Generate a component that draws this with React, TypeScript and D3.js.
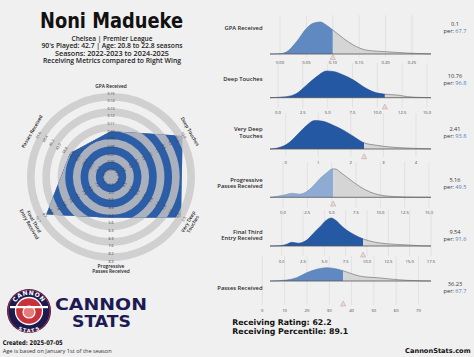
import React from "react";
import * as d3 from "d3";

// ---------------- DATA ----------------
const playerName = "Noni Madueke";
const subtitleLines = [
  "Chelsea | Premier League",
  "90's Played: 42.7 | Age: 20.8 to 22.8 seasons",
  "Seasons: 2022-2023 to 2024-2025",
  "Receiving Metrics compared to Right Wing",
];

// radar
const radarParams = [
  "GPA Received",
  "Deep Touches",
  "Very Deep\nTouches",
  "Progressive\nPasses Received",
  "Final Third\nEntry Received",
  "Passes Received",
];
const radarMin = [0.05, 3.0, 0.25, 2.3, 1.0, 19.6];
const radarMax = [0.15, 10.9, 2.5, 8.9, 10.7, 51.6];
const radarValues = [0.1, 10.76, 2.41, 5.16, 9.54, 36.23];
const radarDecimals = [2, 1, 1, 1, 1, 1];

// distributions
const metricNames = radarParams;
const playerValues = [0.1, 10.76, 2.41, 5.16, 9.54, 36.23];
const valueLabels = ["0.1", "10.76", "2.41", "5.16", "9.54", "36.23"];
const percentiles = [67.7, 96.8, 93.8, 49.5, 91.6, 67.7];
const xDomains: [number, number][] = [
  [-0.019, 0.286],
  [-0.8, 15.4],
  [-0.48, 4.46],
  [-1.33, 15.2],
  [-1.37, 17.5],
  [3.45, 75.6],
];
const tickValues = [
  [0, 0.05, 0.1, 0.15, 0.2, 0.25],
  [0, 2.5, 5, 7.5, 10, 12.5, 15],
  [0, 1, 2, 3, 4],
  [0, 2.5, 5, 7.5, 10, 12.5, 15],
  [0, 2.5, 5, 7.5, 10, 12.5, 15, 17.5],
  [0, 10, 20, 30, 40, 50, 60, 70],
];
const tickLabels = [
  ["0.00", "0.05", "0.10", "0.15", "0.20", "0.25"],
  ["0.0", "2.5", "5.0", "7.5", "10.0", "12.5", "15.0"],
  ["0", "1", "2", "3", "4"],
  ["0.0", "2.5", "5.0", "7.5", "10.0", "12.5", "15.0"],
  ["0.0", "2.5", "5.0", "7.5", "10.0", "12.5", "15.0", "17.5"],
  ["0", "10", "20", "30", "40", "50", "60", "70"],
];
const gpaDensity = [
  [-0.019, 0], [0.0, 0.01], [0.0127, 0.07], [0.032, 0.4], [0.05, 0.8], [0.063, 0.96],
  [0.076, 1.0], [0.088, 0.9], [0.1, 0.75], [0.12, 0.49], [0.139, 0.28], [0.164, 0.12],
  [0.202, 0.07], [0.24, 0.03], [0.286, 0.005],
];
const deepDensity = [
  [-0.8, 0], [0.87, 0.04], [1.88, 0.16], [2.9, 0.48], [3.9, 0.79], [4.9, 1.0], [5.57, 0.98],
  [6.58, 0.85], [7.6, 0.66], [8.6, 0.41], [9.6, 0.22], [10.77, 0.13], [12.0, 0.1],
  [13.0, 0.04], [14.3, 0.01], [15.4, 0],
];
const veryDeepDensity = [
  [-0.48, 0], [-0.17, 0.06], [0.08, 0.2], [0.34, 0.48], [0.59, 0.77], [0.9, 1.0], [1.15, 0.97],
  [1.46, 0.83], [1.77, 0.66], [2.07, 0.45], [2.4, 0.22], [2.79, 0.13], [3.3, 0.06],
  [3.9, 0.025], [4.46, 0.005],
];
const progDensity = [
  [-1.33, 0], [-0.5, 0.04], [0.38, 0.1], [0.9, 0.14], [1.74, 0.11], [2.4, 0.19], [3.1, 0.39],
  [3.8, 0.65], [4.5, 0.85], [5.1, 0.99], [5.5, 0.97], [5.85, 0.88], [6.87, 0.62], [7.9, 0.37],
  [8.9, 0.19], [9.95, 0.08], [11.7, 0.02], [13.5, 0.005], [15.2, 0],
];
const finalDensity = [
  [-1.37, 0], [-0.2, 0.01], [0.59, 0.06], [1.17, 0.13], [1.95, 0.1], [2.93, 0.21], [3.7, 0.45],
  [4.5, 0.69], [5.28, 0.93], [5.8, 1.0], [6.4, 0.9], [7.0, 0.72], [7.6, 0.57], [8.4, 0.42],
  [9.57, 0.25], [10.7, 0.15], [12.3, 0.08], [14.65, 0.04], [16.2, 0.01], [17.5, 0],
];
const passesDensity = [
  [3.45, 0], [10.9, 0.07], [15.4, 0.25], [19.9, 0.62], [24.4, 0.88], [28.9, 1.0], [33.4, 0.9],
  [36.6, 0.75], [40.8, 0.5], [45.3, 0.32], [51.3, 0.25], [57.3, 0.15], [64.8, 0.05], [75.6, 0],
];
const densities = [gpaDensity, deepDensity, veryDeepDensity, progDensity, finalDensity, passesDensity];

const ratingText = "Receiving Rating: 62.2";
const percentileText = "Receiving Percentile: 89.1";

// ---------------- LAYOUT / STYLE ----------------
const BG = "#f0f0f0";
const FONT = "'Open Sans', 'DejaVu Sans', sans-serif";
const BOLD = "'DejaVu Sans', sans-serif";
const cx = 111, cy = 177, c0 = 7.5, rw = 7.65, nRings = 10;
const ringGray = "#d0d0d0", innerBlue = "#2c5ea7", innerGray = "#aab1bd";

const panelLayout = [
  { base: 54, peak: 22, top: 15, tick: 62, tri: 57.5, label: 27.7, right: 27 },
  { base: 97.7, peak: 71, top: 63, tick: 112.7, tri: 107, label: 79.3, right: 79 },
  { base: 149, peak: 120.5, top: 113, tick: 162, tri: 156.7, label: 132.2, right: 132.5 },
  { base: 197.3, peak: 168.5, top: 162, tick: 212.3, tri: 204, label: 183, right: 183 },
  { base: 246, peak: 218, top: 210, tick: 261, tri: 255, label: 235, right: 235 },
  { base: 281, peak: 267.7, top: 256, tick: 310, tri: 304, label: 287.7, right: 287.5 },
];
const X0 = 270, X1 = 431;

const blueScale = d3
  .scaleLinear<string>()
  .domain([50, 68, 92])
  .range(["#8eabd3", "#5e88c0", "#2558a3"])
  .clamp(true);

function tangentRot(deg: number) {
  let r = deg % 360;
  if (r > 90 && r < 270) r -= 180;
  else if (r >= 270) r -= 360;
  return r;
}

function Radar() {
  const n = radarParams.length;
  const angles = radarParams.map((_, i) => (i * 360) / n);
  const scales = radarParams.map((_, i) =>
    d3.scaleLinear().domain([radarMin[i], radarMax[i]]).range([c0, c0 + nRings * rw])
  );
  const pts = radarValues.map((v, i) => {
    const r = scales[i](v);
    const a = (angles[i] * Math.PI) / 180;
    return [cx + r * Math.sin(a), cy - r * Math.cos(a)];
  });
  const ks = d3.range(nRings, -1, -1);
  return (
    <g>
      <defs>
        <clipPath id="radarClip">
          <polygon points={pts.map((p) => p.join(",")).join(" ")} />
        </clipPath>
      </defs>
      {ks.map((k) => (
        <circle key={"o" + k} cx={cx} cy={cy} r={c0 + k * rw} fill={k % 2 === 0 ? ringGray : BG} />
      ))}
      <g clipPath="url(#radarClip)">
        {ks.map((k) => (
          <circle key={"i" + k} cx={cx} cy={cy} r={c0 + k * rw} fill={k % 2 === 0 ? innerGray : innerBlue} />
        ))}
      </g>
      {radarParams.map((p, i) => {
        const a = (angles[i] * Math.PI) / 180;
        const rot = tangentRot(angles[i]);
        const fmt = d3.format("." + radarDecimals[i] + "f");
        return (
          <g key={"ax" + i}>
            {d3.range(0, nRings + 1).map((k) => {
              const r = c0 + k * rw;
              const v = radarMin[i] + ((radarMax[i] - radarMin[i]) * k) / nRings;
              const x = cx + r * Math.sin(a), y = cy - r * Math.cos(a);
              return (
                <text key={k} x={0} y={0} transform={`translate(${x},${y}) rotate(${rot})`}
                  fontSize={3.6} fill="#3a3a3a" textAnchor="middle" dominantBaseline="central" fontFamily={FONT}>
                  {fmt(v)}
                </text>
              );
            })}
            {(() => {
              const r = 91.5;
              const x = cx + r * Math.sin(a), y = cy - r * Math.cos(a);
              const lines = p.split("\n");
              return (
                <text transform={`translate(${x},${y}) rotate(${rot})`} fontSize={4.8} fill="#222"
                  textAnchor="middle" fontFamily={FONT} fontWeight={600}>
                  {lines.map((l, j) => (
                    <tspan key={j} x={0} y={(j - (lines.length - 1) / 2) * 5.3} dominantBaseline="central">{l}</tspan>
                  ))}
                </text>
              );
            })()}
          </g>
        );
      })}
    </g>
  );
}

function Panel({ i }: { i: number }) {
  const L = panelLayout[i];
  const x = d3.scaleLinear().domain(xDomains[i]).range([X0, X1]);
  const y = d3.scaleLinear().domain([0, 1]).range([L.base, L.peak]);
  const data = densities[i] as [number, number][];
  const area = d3.area<[number, number]>().x((d) => x(d[0])).y0(L.base).y1((d) => y(d[1])).curve(d3.curveMonotoneX);
  const line = d3.line<[number, number]>().x((d) => x(d[0])).y((d) => y(d[1])).curve(d3.curveMonotoneX);
  const xv = x(playerValues[i]);
  const col = blueScale(percentiles[i]);
  const lines = metricNames[i].split("\n");
  return (
    <g>
      <defs>
        <clipPath id={"cl" + i}><rect x={0} y={L.top - 5} width={xv} height={L.tick - L.top + 5} /></clipPath>
        <clipPath id={"cr" + i}><rect x={xv} y={L.top - 5} width={474 - xv} height={L.tick - L.top + 5} /></clipPath>
      </defs>
      {tickValues[i].map((t, j) => (
        <g key={j}>
          <line x1={x(t)} x2={x(t)} y1={L.top} y2={L.tick - 5} stroke="#d9d9d9" strokeWidth={0.6} />
          <text x={x(t)} y={L.tick} fontSize={4.2} fill="#444" textAnchor="middle" dominantBaseline="central" fontFamily={FONT}>
            {tickLabels[i][j]}
          </text>
        </g>
      ))}
      <path d={area(data) || ""} fill={col} clipPath={`url(#cl${i})`} />
      <path d={area(data) || ""} fill="#d5d5d5" clipPath={`url(#cr${i})`} />
      <path d={line(data) || ""} fill="none" stroke="#777" strokeWidth={0.7} clipPath={`url(#cr${i})`} />
      <path d={line(data) || ""} fill="none" stroke={d3.color(col)!.darker(0.4).toString()} strokeWidth={0.6} clipPath={`url(#cl${i})`} />
      <line x1={X0} x2={X1} y1={L.base} y2={L.base} stroke="#555" strokeWidth={0.8} />
      <polygon points={`${xv},${L.tri - 3} ${xv - 2.6},${L.tri + 2} ${xv + 2.6},${L.tri + 2}`} fill="#ead8d8" stroke="#c09c9c" strokeWidth={0.5} />
      <text x={262.5} y={L.label} fontSize={5.8} fill="#2a2a2a" textAnchor="end" fontFamily={FONT} fontWeight={600}>
        {lines.map((l, j) => (
          <tspan key={j} x={262.5} y={L.label + (j - (lines.length - 1) / 2) * 6.6} dominantBaseline="central">{l}</tspan>
        ))}
      </text>
      <text x={455} y={L.right - 3.5} fontSize={5.6} fill="#333" textAnchor="middle" dominantBaseline="central" fontFamily={FONT}>
        {valueLabels[i]}
      </text>
      <text x={455} y={L.right + 3.5} fontSize={5.6} fill="#333" textAnchor="middle" dominantBaseline="central" fontFamily={FONT}>
        per: <tspan fill="#4f7fc0">{percentiles[i].toFixed(1)}</tspan>
      </text>
    </g>
  );
}

function Logo() {
  const lx = 29, ly = 311;
  return (
    <g>
      <defs>
        <path id="arcTop" d={`M ${lx - 16} ${ly} A 16 16 0 0 1 ${lx + 16} ${ly}`} />
        <path id="arcBot" d={`M ${lx - 17.5} ${ly} A 17.5 17.5 0 0 0 ${lx + 17.5} ${ly}`} />
      </defs>
      <circle cx={lx} cy={ly} r={22} fill="#1d1a4f" />
      <circle cx={lx} cy={ly} r={21} fill="none" stroke="#c8323a" strokeWidth={0.8} />
      <circle cx={lx} cy={ly} r={13.5} fill="#c8323a" stroke="#fff" strokeWidth={1.3} />
      <circle cx={lx} cy={ly + 1} r={6} fill="#e87a7a" stroke="#fff" strokeWidth={1.2} />
      <rect x={lx - 19} y={ly - 5} width={38} height={2.2} fill="#fff" />
      <text fontSize={6} fill="#fff" fontWeight="bold" fontFamily={BOLD} letterSpacing={0.5}>
        <textPath href="#arcTop" startOffset="50%" textAnchor="middle">CANNON</textPath>
      </text>
      <text fontSize={5} fill="#fff" fontWeight="bold" fontFamily={BOLD} letterSpacing={0.5}>
        <textPath href="#arcBot" startOffset="50%" textAnchor="middle" dominantBaseline="hanging">STATS</textPath>
      </text>
      <text x={55} y={309.8} fontSize={15.5} fill="#1d1a54" fontWeight="bold" fontFamily={BOLD} textLength={92} lengthAdjust="spacingAndGlyphs">CANNON</text>
      <text x={72} y={326.5} fontSize={15.5} fill="#1d1a54" fontWeight="bold" fontFamily={BOLD} textLength={59} lengthAdjust="spacingAndGlyphs">STATS</text>
    </g>
  );
}

export default function App() {
  const subBase = [40.5, 48, 55.5, 63];
  const subLen = [81, 141, 114, 138];
  return (
    <div style={{ position: "fixed", left: 0, top: 0 }}>
      <svg width={474} height={357} style={{ display: "block", background: BG }}>
        <rect width={474} height={357} fill={BG} />
        <text x={111.5} y={28.3} fontSize={20.5} fontWeight="bold" fontFamily={BOLD} fill="#111" textAnchor="middle"
          textLength={143} lengthAdjust="spacingAndGlyphs">{playerName}</text>
        {subtitleLines.map((s, i) => (
          <text key={i} x={112} y={subBase[i]} fontSize={7} fontFamily={FONT} fontWeight={600} fill="#222"
            textAnchor="middle" textLength={subLen[i]} lengthAdjust="spacingAndGlyphs">{s}</text>
        ))}
        <Radar />
        {metricNames.map((_, i) => <Panel key={i} i={i} />)}
        <Logo />
        <text x={2.7} y={345} fontSize={6.5} fontWeight="bold" fontFamily={BOLD} fill="#111" textLength={60} lengthAdjust="spacingAndGlyphs">Created: 2025-07-05</text>
        <text x={2.7} y={352.7} fontSize={6} fontFamily={FONT} fill="#333" textLength={109} lengthAdjust="spacingAndGlyphs">Age is based on January 1st of the season</text>
        <text x={232.3} y={325.3} fontSize={7.8} fontWeight="bold" fontFamily={BOLD} fill="#111" textLength={99.4} lengthAdjust="spacingAndGlyphs">{ratingText}</text>
        <text x={232.3} y={333.6} fontSize={7.8} fontWeight="bold" fontFamily={BOLD} fill="#111" textLength={116} lengthAdjust="spacingAndGlyphs">{percentileText}</text>
        <text x={470.6} y={352.6} fontSize={6.6} fontWeight="bold" fontFamily={BOLD} fill="#111" textAnchor="end" textLength={65.5} lengthAdjust="spacingAndGlyphs">CannonStats.com</text>
      </svg>
    </div>
  );
}
